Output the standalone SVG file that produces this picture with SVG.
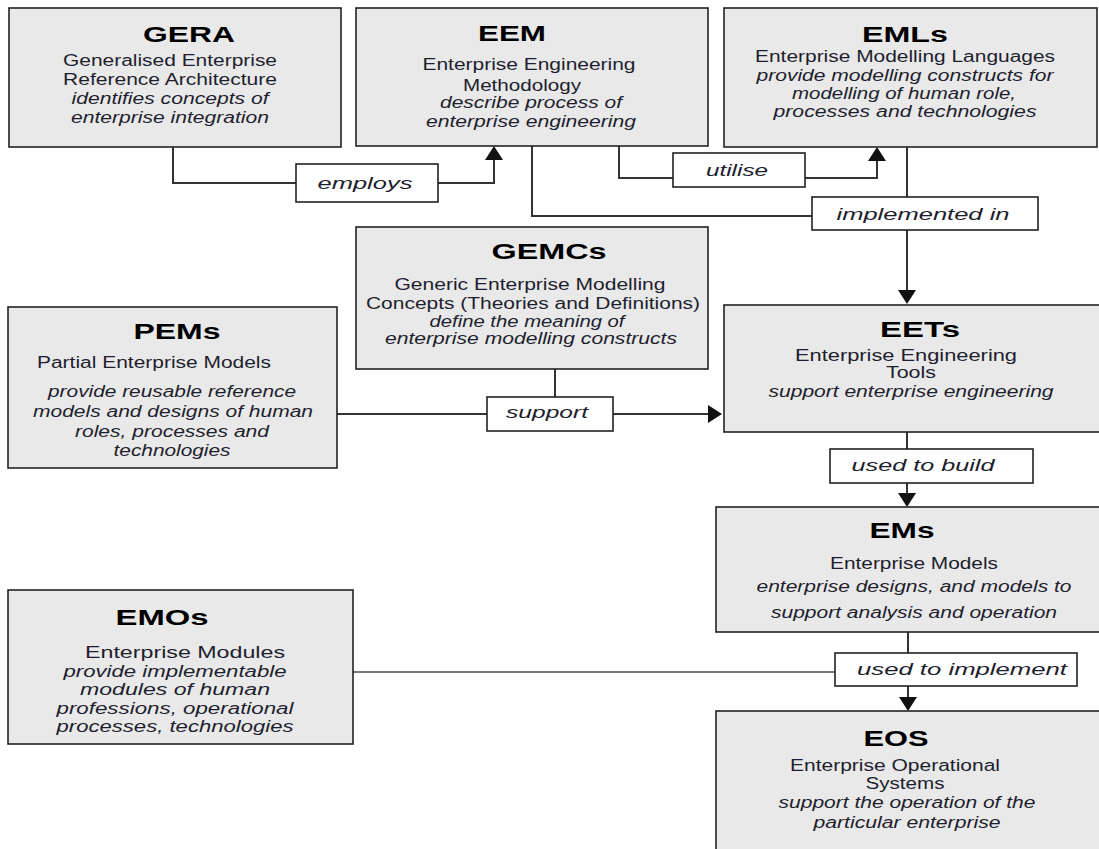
<svg xmlns="http://www.w3.org/2000/svg" width="1099" height="849" viewBox="0 0 1099 849">
<style>
.box{fill:#e9e9e9;stroke:#222;stroke-width:1.6}
.lbl{fill:#fff;stroke:#222;stroke-width:1.6}
.t{font-family:"Liberation Sans",Arial,sans-serif;font-size:22px;font-weight:bold;fill:#000;text-anchor:middle}
.b{font-family:"Liberation Sans",Arial,sans-serif;font-size:16px;fill:#1e1e2e;text-anchor:middle}
.i{font-style:italic}
.l{font-family:"Liberation Sans",Arial,sans-serif;font-size:17px;font-style:italic;fill:#1e1e2e;text-anchor:middle}
.c{fill:none;stroke:#333;stroke-width:2}
</style>
<defs>
<marker id="ah" viewBox="0 0 14 18" refX="0" refY="9" markerWidth="14" markerHeight="18" markerUnits="userSpaceOnUse" orient="auto">
<path d="M0,0 L14,9 L0,18 z" fill="#111"/>
</marker>
</defs>
<rect width="1099" height="849" fill="#fff"/>

<g id="connectors">
<path class="c" d="M173,147 V183 H494 V160" marker-end="url(#ah)"/>
<path class="c" d="M619,146 V178 H877 V161" marker-end="url(#ah)"/>
<path class="c" d="M532,146 V216 H812"/>
<path class="c" d="M907,147 V290" marker-end="url(#ah)"/>
<path class="c" d="M555,369 V397"/>
<path class="c" d="M337,414 H708" marker-end="url(#ah)"/>
<path class="c" d="M907,432 V493" marker-end="url(#ah)"/>
<path class="c" d="M908,632 V697" marker-end="url(#ah)"/>
<path class="c" d="M353,672 H835" style="stroke:#777"/>
<rect class="lbl" x="296" y="164" width="142" height="38"/>
<text class="l" x="365" y="189" textLength="95" lengthAdjust="spacingAndGlyphs">employs</text>
<rect class="lbl" x="673" y="153" width="132" height="34"/>
<text class="l" x="737" y="176" textLength="62" lengthAdjust="spacingAndGlyphs">utilise</text>
<rect class="lbl" x="812" y="197" width="226" height="33"/>
<text class="l" x="923" y="220" textLength="173" lengthAdjust="spacingAndGlyphs">implemented in</text>
<rect class="lbl" x="487" y="397" width="126" height="34"/>
<text class="l" x="547" y="418" textLength="82" lengthAdjust="spacingAndGlyphs">support</text>
<rect class="lbl" x="830" y="449" width="203" height="34"/>
<text class="l" x="923" y="471" textLength="143" lengthAdjust="spacingAndGlyphs">used to build</text>
<rect class="lbl" x="835" y="653" width="242" height="33"/>
<text class="l" x="962" y="675" textLength="210" lengthAdjust="spacingAndGlyphs">used to implement</text>
</g>

<g id="GERA">
<rect class="box" x="9" y="8" width="332" height="139"/>
<text class="t" x="189" y="42" textLength="92" lengthAdjust="spacingAndGlyphs">GERA</text>
<text class="b" x="170" y="66" textLength="214" lengthAdjust="spacingAndGlyphs">Generalised Enterprise</text>
<text class="b" x="170" y="85" textLength="214" lengthAdjust="spacingAndGlyphs">Reference Architecture</text>
<text class="b i" x="170" y="104" textLength="197" lengthAdjust="spacingAndGlyphs">identifies concepts of</text>
<text class="b i" x="170" y="123" textLength="198" lengthAdjust="spacingAndGlyphs">enterprise integration</text>
</g>

<g id="EEM">
<rect class="box" x="356" y="8" width="352" height="138"/>
<text class="t" x="512" y="41" textLength="68" lengthAdjust="spacingAndGlyphs">EEM</text>
<text class="b" x="529" y="70" textLength="213" lengthAdjust="spacingAndGlyphs">Enterprise Engineering</text>
<text class="b" x="522" y="91" textLength="118" lengthAdjust="spacingAndGlyphs">Methodology</text>
<text class="b i" x="531" y="108" textLength="182" lengthAdjust="spacingAndGlyphs">describe process of</text>
<text class="b i" x="531" y="127" textLength="210" lengthAdjust="spacingAndGlyphs">enterprise engineering</text>
</g>

<g id="EMLs">
<rect class="box" x="724" y="8" width="373" height="139"/>
<text class="t" x="905" y="42" textLength="86" lengthAdjust="spacingAndGlyphs">EMLs</text>
<text class="b" x="905" y="62" textLength="300" lengthAdjust="spacingAndGlyphs">Enterprise Modelling Languages</text>
<text class="b i" x="905" y="81" textLength="297" lengthAdjust="spacingAndGlyphs">provide modelling constructs for</text>
<text class="b i" x="904" y="99" textLength="224" lengthAdjust="spacingAndGlyphs">modelling of human role,</text>
<text class="b i" x="905" y="117" textLength="263" lengthAdjust="spacingAndGlyphs">processes and technologies</text>
</g>

<g id="GEMCs">
<rect class="box" x="356" y="227" width="352" height="142"/>
<text class="t" x="549" y="259" textLength="115" lengthAdjust="spacingAndGlyphs">GEMCs</text>
<text class="b" x="530" y="290" textLength="271" lengthAdjust="spacingAndGlyphs">Generic Enterprise Modelling</text>
<text class="b" x="533" y="309" textLength="334" lengthAdjust="spacingAndGlyphs">Concepts (Theories and Definitions)</text>
<text class="b i" x="527" y="327" textLength="195" lengthAdjust="spacingAndGlyphs">define the meaning of</text>
<text class="b i" x="531" y="344" textLength="292" lengthAdjust="spacingAndGlyphs">enterprise modelling constructs</text>
</g>

<g id="PEMs">
<rect class="box" x="8" y="307" width="329" height="161"/>
<text class="t" x="177" y="339" textLength="87" lengthAdjust="spacingAndGlyphs">PEMs</text>
<text class="b" x="154" y="368" textLength="234" lengthAdjust="spacingAndGlyphs">Partial Enterprise Models</text>
<text class="b i" x="172" y="397" textLength="248" lengthAdjust="spacingAndGlyphs">provide reusable reference</text>
<text class="b i" x="173" y="417" textLength="280" lengthAdjust="spacingAndGlyphs">models and designs of human</text>
<text class="b i" x="172" y="437" textLength="194" lengthAdjust="spacingAndGlyphs">roles, processes and</text>
<text class="b i" x="172" y="456" textLength="117" lengthAdjust="spacingAndGlyphs">technologies</text>
</g>

<g id="EETs">
<rect class="box" x="724" y="305" width="378" height="127"/>
<text class="t" x="920" y="337" textLength="80" lengthAdjust="spacingAndGlyphs">EETs</text>
<text class="b" x="906" y="361" textLength="222" lengthAdjust="spacingAndGlyphs">Enterprise Engineering</text>
<text class="b" x="911" y="378" textLength="50" lengthAdjust="spacingAndGlyphs">Tools</text>
<text class="b i" x="911" y="397" textLength="285" lengthAdjust="spacingAndGlyphs">support enterprise engineering</text>
</g>

<g id="EMs">
<rect class="box" x="716" y="507" width="386" height="125"/>
<text class="t" x="902" y="538" textLength="65" lengthAdjust="spacingAndGlyphs">EMs</text>
<text class="b" x="914" y="569" textLength="168" lengthAdjust="spacingAndGlyphs">Enterprise Models</text>
<text class="b i" x="914" y="592" textLength="315" lengthAdjust="spacingAndGlyphs">enterprise designs, and models to</text>
<text class="b i" x="914" y="618" textLength="286" lengthAdjust="spacingAndGlyphs">support analysis and operation</text>
</g>

<g id="EOS">
<rect class="box" x="716" y="711" width="386" height="150"/>
<text class="t" x="896" y="746" textLength="65" lengthAdjust="spacingAndGlyphs">EOS</text>
<text class="b" x="895" y="771" textLength="210" lengthAdjust="spacingAndGlyphs">Enterprise Operational</text>
<text class="b" x="905" y="789" textLength="79" lengthAdjust="spacingAndGlyphs">Systems</text>
<text class="b i" x="907" y="808" textLength="257" lengthAdjust="spacingAndGlyphs">support the operation of the</text>
<text class="b i" x="907" y="828" textLength="187" lengthAdjust="spacingAndGlyphs">particular enterprise</text>
</g>

<g id="EMOs">
<rect class="box" x="8" y="590" width="345" height="154"/>
<text class="t" x="162" y="625" textLength="93" lengthAdjust="spacingAndGlyphs">EMOs</text>
<text class="b" x="185" y="658" textLength="200" lengthAdjust="spacingAndGlyphs">Enterprise Modules</text>
<text class="b i" x="175" y="677" textLength="223" lengthAdjust="spacingAndGlyphs">provide implementable</text>
<text class="b i" x="175" y="695" textLength="190" lengthAdjust="spacingAndGlyphs">modules of human</text>
<text class="b i" x="175" y="714" textLength="237" lengthAdjust="spacingAndGlyphs">professions, operational</text>
<text class="b i" x="175" y="732" textLength="237" lengthAdjust="spacingAndGlyphs">processes, technologies</text>
</g>
</svg>
